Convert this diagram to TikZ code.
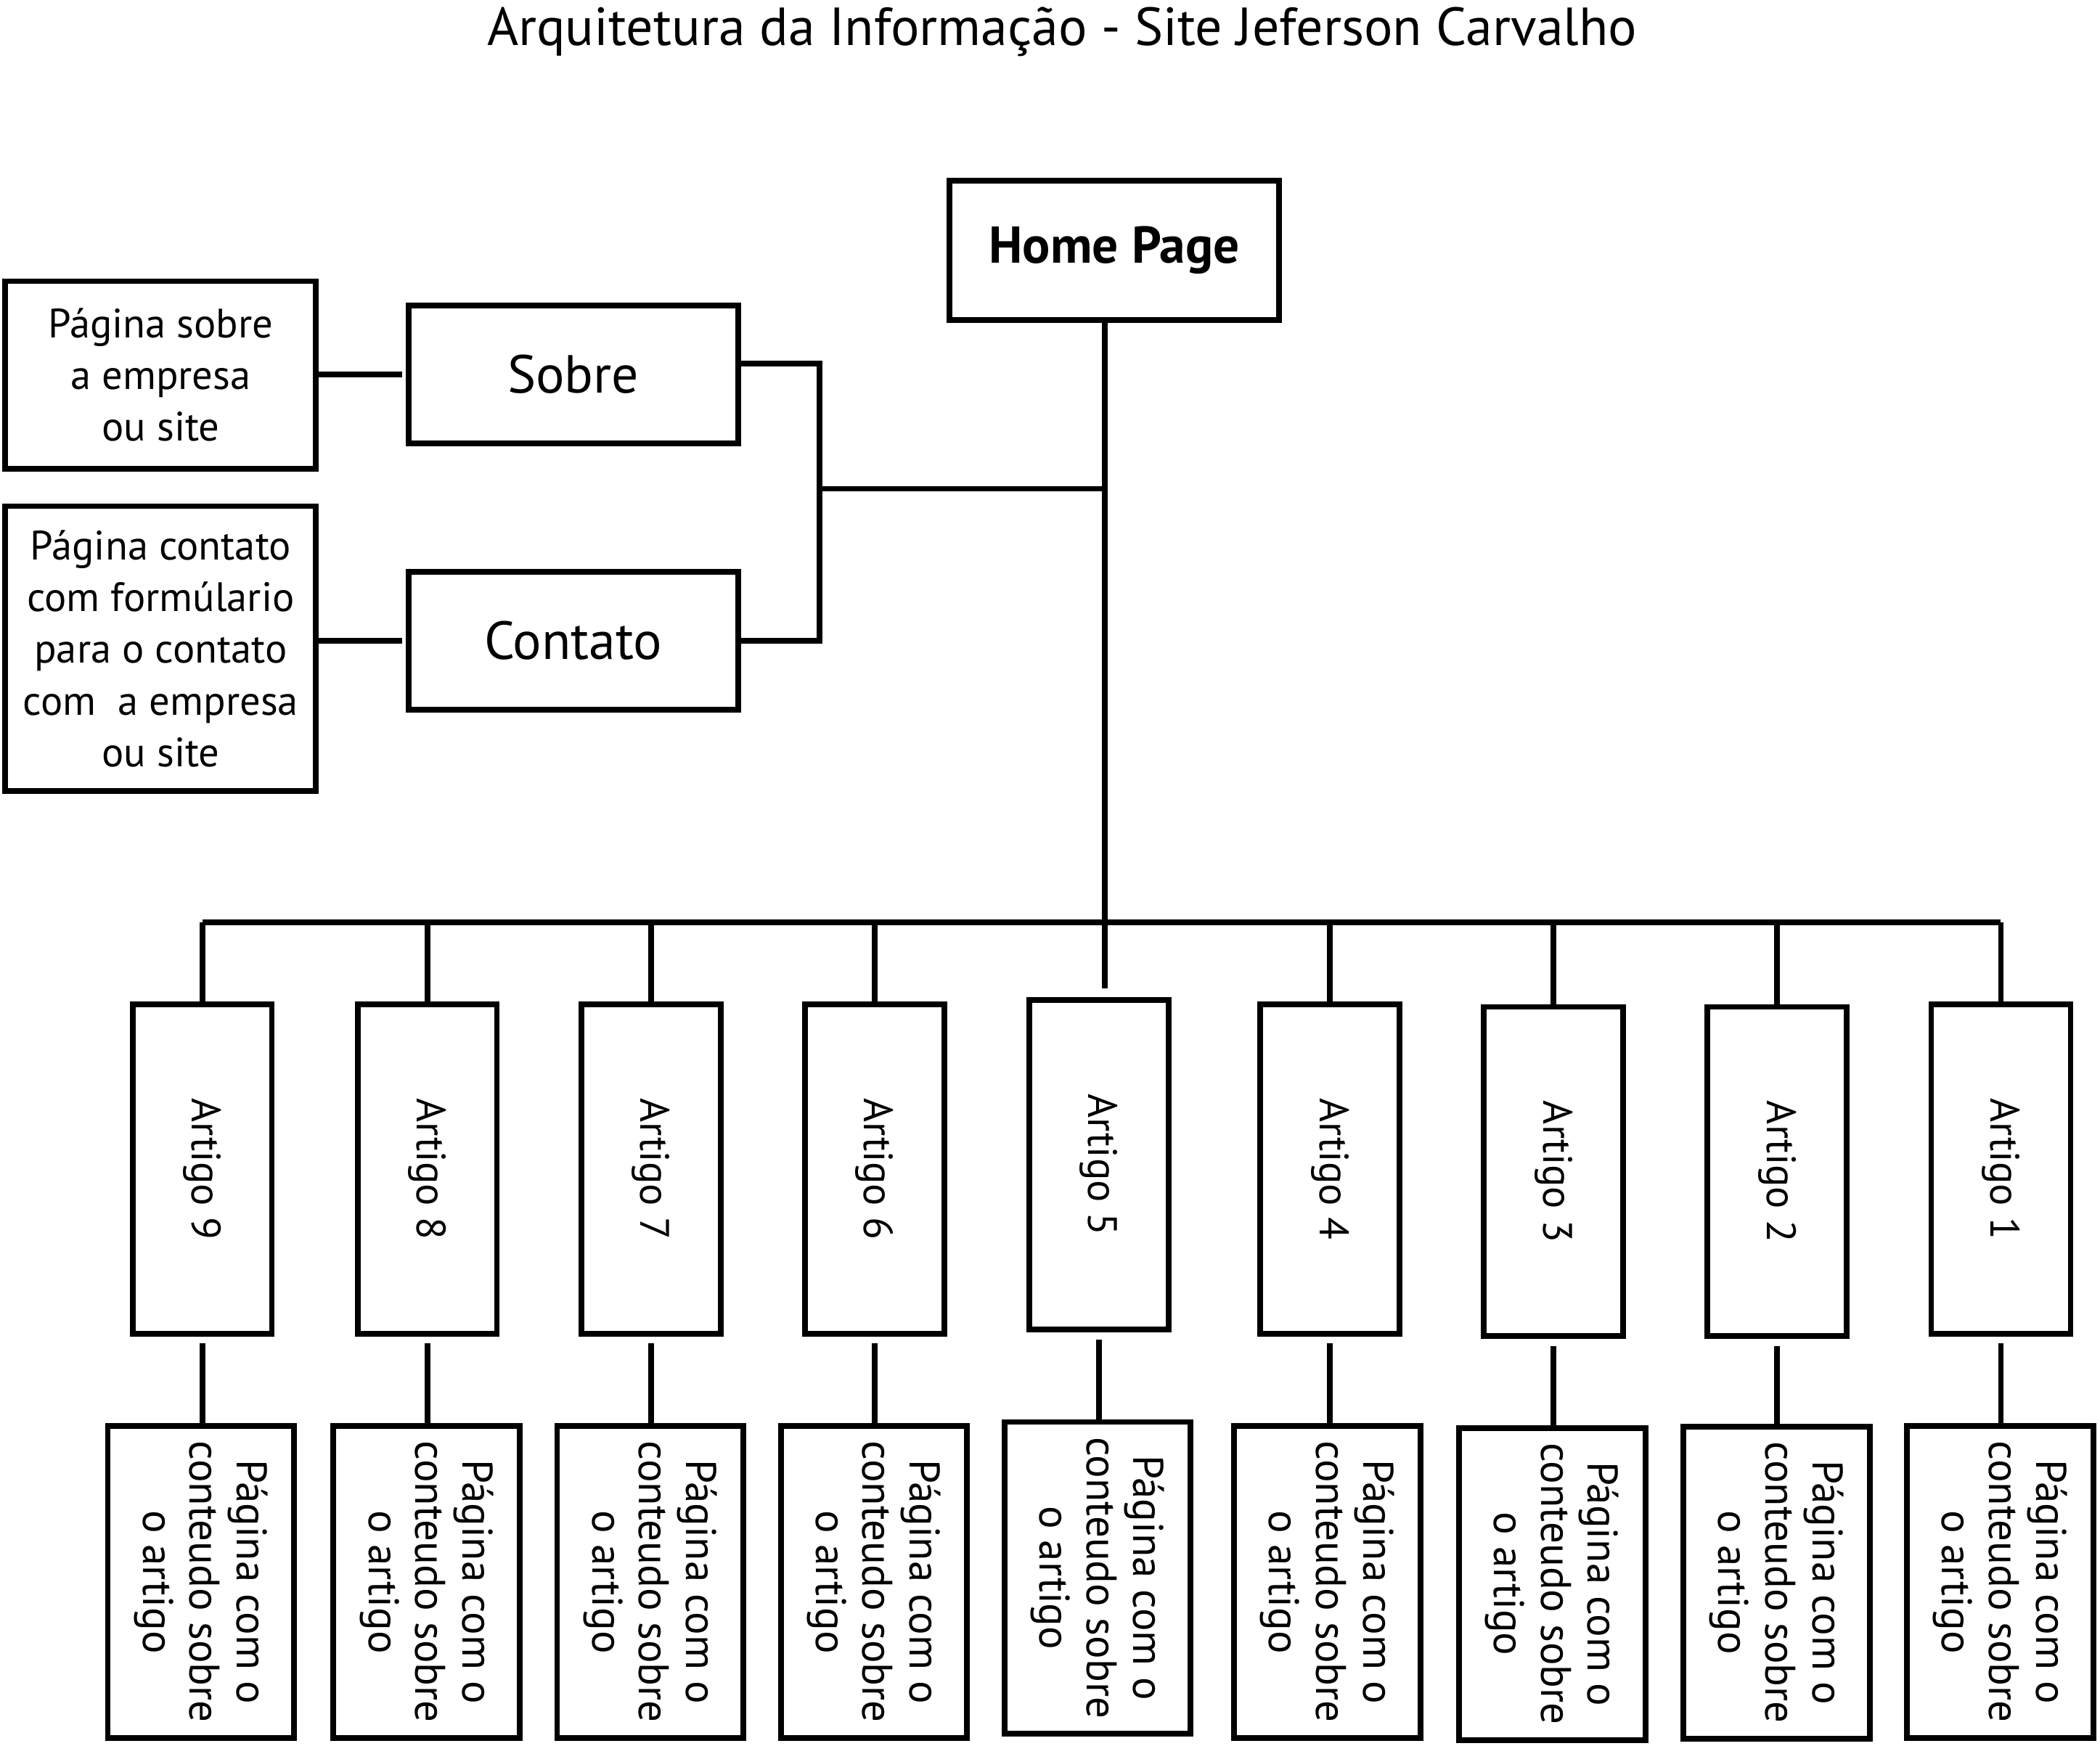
\documentclass[tikz,border=0pt]{standalone}
\usepackage{fontspec}
\setmainfont{PT Sans}
\tikzset{every picture/.style={line width=0.75pt}}

\begin{document}
\begin{tikzpicture}[x=0.75pt,y=0.75pt,yscale=-1,xscale=1,
        box/.style={draw, line width=3.2pt, inner sep=0.75pt, align=center},
        bigtext/.style={font=\fontsize{30}{36}\selectfont},
        smalltext/.style={font=\fontsize{23}{29}\selectfont},
        artbox/.style={box, rotate=-90, minimum width=184.5pt, minimum height=78pt, font=\fontsize{23}{28}\selectfont},
        pagebox/.style={box, rotate=-90, minimum width=174.75pt, minimum height=104.25pt, font=\fontsize{24}{26.25}\selectfont},
        link/.style={line width=3.2pt}]
\useasboundingbox (0,0) rectangle (1568,1304);

% Text Node
        \node [bigtext, anchor=base, inner sep=0.75pt] (title) at (793,34) {Arquitetura da Informação - Site Jeferson Carvalho};

% Text Node
        \node [box, minimum width=184.5pt, minimum height=78pt, font=\bfseries\fontsize{29}{34}\selectfont] (home) at (832,187) {Home Page};
% Text Node
        \node [box, bigtext, minimum width=184.5pt, minimum height=77.25pt] (sobre) at (428,279.5) {Sobre};
% Text Node
        \node [box, bigtext, minimum width=184.5pt, minimum height=77.25pt] (contato) at (428,478.5) {Contato};
% Text Node
        \node [box, smalltext, minimum width=174pt, minimum height=105pt] (pgsobre) at (120,280) {Página sobre\\a empresa\\ou site};
% Text Node
        \node [box, smalltext, minimum width=174pt, minimum height=159.75pt] (pgcontato) at (120,484.5) {Página contato\\com formúlario\\para o contato\\com~ a empresa\\ou site};

% Artigos
        \node [artbox] (a9) at (151,873) {Artigo 9};
        \node [artbox] (a8) at (319,873) {Artigo 8};
        \node [artbox] (a7) at (486,873) {Artigo 7};
        \node [artbox] (a6) at (653,873) {Artigo 6};
        \node [artbox] (a5) at (820.5,870) {Artigo 5};
        \node [artbox] (a4) at (993,873) {Artigo 4};
        \node [artbox] (a3) at (1160,875) {Artigo 3};
        \node [artbox] (a2) at (1327,875) {Artigo 2};
        \node [artbox] (a1) at (1494,873) {Artigo 1};

% Paginas dos artigos
        \node [pagebox] (p9) at (150,1181.5) {Página com o\\conteudo sobre\\o artigo};
        \node [pagebox] (p8) at (318.5,1181.5) {Página com o\\conteudo sobre\\o artigo};
        \node [pagebox] (p7) at (485.5,1181.5) {Página com o\\conteudo sobre\\o artigo};
        \node [pagebox] (p6) at (652.5,1181.5) {Página com o\\conteudo sobre\\o artigo};
        \node [pagebox] (p5) at (819.5,1178.5) {Página com o\\conteudo sobre\\o artigo};
        \node [pagebox] (p4) at (991,1181.5) {Página com o\\conteudo sobre\\o artigo};
        \node [pagebox] (p3) at (1159,1183) {Página com o\\conteudo sobre\\o artigo};
        \node [pagebox] (p2) at (1326.5,1182) {Página com o\\conteudo sobre\\o artigo};
        \node [pagebox] (p1) at (1493.5,1181.5) {Página com o\\conteudo sobre\\o artigo};

        \coordinate (fork) at (612,365);
        \coordinate (hub) at (825,365);
        \coordinate (bus) at (825,689);

% Connection
        \draw [link, shorten >=2pt] (pgsobre.east |- sobre.west) -- (sobre.west);
% Connection
        \draw [link, shorten >=2pt] (pgcontato.east |- contato.west) -- (contato.west);
% Connection
        \draw [link] ([yshift=-6pt]sobre.east) -| (fork) |- (contato.east);
% Connection
        \draw [link] (fork) -- (hub);
% Connection
        \draw [link, shorten >=5pt] (home.south -| hub) -- (hub |- a5.west);
% Connection
        \draw [link] (a9.west |- bus) -- (a1.west |- bus);
% Connection
        \draw [link] (a9.west |- bus) -- (a9.west);
        \draw [link] (a8.west |- bus) -- (a8.west);
        \draw [link] (a7.west |- bus) -- (a7.west);
        \draw [link] (a6.west |- bus) -- (a6.west);
        \draw [link] (a4.west |- bus) -- (a4.west);
        \draw [link] (a3.west |- bus) -- (a3.west);
        \draw [link] (a2.west |- bus) -- (a2.west);
        \draw [link] (a1.west |- bus) -- (a1.west);
% Connection
        \draw [link, shorten <=4pt] (a9.east) -- (a9.east |- p9.west);
        \draw [link, shorten <=4pt] (a8.east) -- (a8.east |- p8.west);
        \draw [link, shorten <=4pt] (a7.east) -- (a7.east |- p7.west);
        \draw [link, shorten <=4pt] (a6.east) -- (a6.east |- p6.west);
        \draw [link, shorten <=4pt] (a5.east) -- (a5.east |- p5.west);
        \draw [link, shorten <=4pt] (a4.east) -- (a4.east |- p4.west);
        \draw [link, shorten <=4pt] (a3.east) -- (a3.east |- p3.west);
        \draw [link, shorten <=4pt] (a2.east) -- (a2.east |- p2.west);
        \draw [link, shorten <=4pt] (a1.east) -- (a1.east |- p1.west);

\end{tikzpicture}
\end{document}
